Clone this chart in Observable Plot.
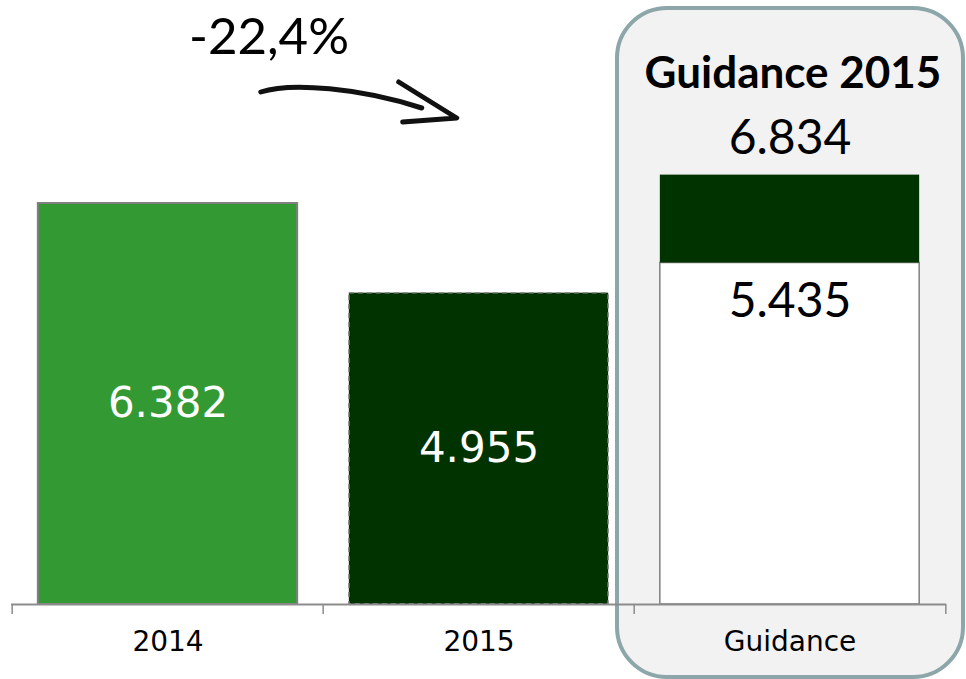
<!DOCTYPE html>
<html>
<head>
<meta charset="utf-8">
<script src="https://cdn.jsdelivr.net/npm/d3@7"></script>
<script src="https://cdn.jsdelivr.net/npm/@observablehq/plot@0.6"></script>
<style>
  html, body { margin: 0; padding: 0; background: #fff; }
  svg { display: block; }
</style>
</head>
<body>
<div id="chart"></div>
<script>
// ---- data ----
const categories = ["2014", "2015", "Guidance"];
const values = [6382, 4955, 5435];
const valueLabels = ["6.382", "4.955", "5.435"];
const guidanceHigh = 6834;
const guidanceHighLabel = "6.834";
const boxTitle = "Guidance 2015";
const changeLabel = "-22,4%";

// ---- layout ----
const W = 966, H = 679;
const mL = 11, mR = 20, mT = 0, mB = 75;
const step = (W - mL - mR) / categories.length;
const barInset = (step - 260) / 2;
const yMax = 9613;
const pxPerUnit = (H - mT - mB) / yMax;
const u = px => px / pxPerUnit; // pixel distance -> value distance

const bars = categories.map((c, i) => ({cat: c, value: values[i], label: valueLabels[i]}));

const plot = Plot.plot({
  width: W,
  height: H,
  marginLeft: mL,
  marginRight: mR,
  marginTop: mT,
  marginBottom: mB,
  style: {fontFamily: "DejaVu Sans, Verdana, sans-serif", background: "white", overflow: "visible"},
  x: {domain: categories, padding: 0, label: null},
  y: {domain: [0, yMax], axis: null},
  marks: [
    // guidance highlight box
    Plot.barY([{cat: "Guidance"}], {
      x: "cat", y1: -u(73), y2: yMax - u(8),
      insetLeft: -17, insetRight: -18,
      rx: 50, fill: "#f2f2f2", stroke: "#8ca6a9", strokeWidth: 4
    }),
    // 2014
    Plot.barY([bars[0]], {x: "cat", y: "value", fill: "#339933", stroke: "#7f7f7f", strokeWidth: 2, insetLeft: barInset, insetRight: barInset}),
    // 2015
    Plot.barY([bars[1]], {x: "cat", y: "value", fill: "#003300", stroke: "#8c8c8c", strokeWidth: 1.5, strokeDasharray: "5,4", insetLeft: barInset, insetRight: barInset}),
    // Guidance low (white)
    Plot.barY([bars[2]], {x: "cat", y: "value", fill: "#ffffff", stroke: "#7f7f7f", strokeWidth: 1.5, insetLeft: barInset, insetRight: barInset}),
    // Guidance range (dark)
    Plot.barY([{cat: "Guidance", lo: values[2], hi: guidanceHigh}], {x: "cat", y1: "lo", y2: "hi", fill: "#003300", insetLeft: barInset, insetRight: barInset}),
    // baseline
    Plot.ruleY([0], {stroke: "#8c8c8c", strokeWidth: 2}),
    // band boundary ticks
    Plot.ruleX(categories, {x: d => d, y1: 0, y2: -u(10), dx: -step / 2, stroke: "#8c8c8c", strokeWidth: 1.5}),
    Plot.ruleX([categories[categories.length - 1]], {x: d => d, y1: 0, y2: -u(10), dx: step / 2, stroke: "#8c8c8c", strokeWidth: 1.5}),
    // axis labels
    Plot.axisX({tickSize: 0, tickPadding: 27, fontSize: 28, fill: "#000", label: null}),
    // value labels inside bars
    Plot.text([bars[0], bars[1]], {x: "cat", y: d => d.value / 2, text: "label", fill: "white", fontSize: 42}),
    Plot.text([bars[2]], {x: "cat", y: "value", text: "label", fill: "black", fontSize: 48, fontFamily: "Lato, sans-serif", dy: 39}),
    Plot.text([{cat: "Guidance", v: guidanceHigh, label: guidanceHighLabel}], {x: "cat", y: "v", text: "label", fill: "black", fontSize: 48, fontFamily: "Lato, sans-serif", dy: -36}),
    Plot.text([{cat: "Guidance", label: boxTitle}], {x: "cat", y: yMax - u(73), text: "label", fill: "black", fontSize: 44, fontWeight: "bold", fontFamily: "Lato, sans-serif", dx: 3}),
    // change label
    Plot.text([{cat: "2015", label: changeLabel}], {x: "cat", y: yMax - u(37), text: "label", fill: "black", fontSize: 51, fontFamily: "Lato, sans-serif", dx: -210})
  ]
});

// hand-drawn arrow between 2014 and 2015, positioned with the plot's scales
const xs = plot.scale("x"), ys = plot.scale("y");
const bw = xs.bandwidth;
const x0 = xs.apply("2014") + bw * 0.8;
const x1 = xs.apply("2015") + bw * 0.43;
const yA = ys.apply(yMax - u(90));
const yB = ys.apply(yMax - u(118));
const svg = d3.select(plot);
const g = svg.append("g").attr("fill", "none").attr("stroke", "#111").attr("stroke-linecap", "round").attr("stroke-linejoin", "round");
g.append("path")
  .attr("d", `M${x0},${yA + 2} C${x0 + 30},${yA - 8} ${x0 + 100},${yA - 2} ${x1 - 35},${yB - 10}`)
  .attr("stroke-width", 5);
g.append("path")
  .attr("d", `M${x1 - 58},${yB - 36} L${x1},${yB} L${x1 - 54},${yB + 4}`)
  .attr("stroke-width", 5);

document.getElementById("chart").appendChild(plot);
</script>
</body>
</html>
